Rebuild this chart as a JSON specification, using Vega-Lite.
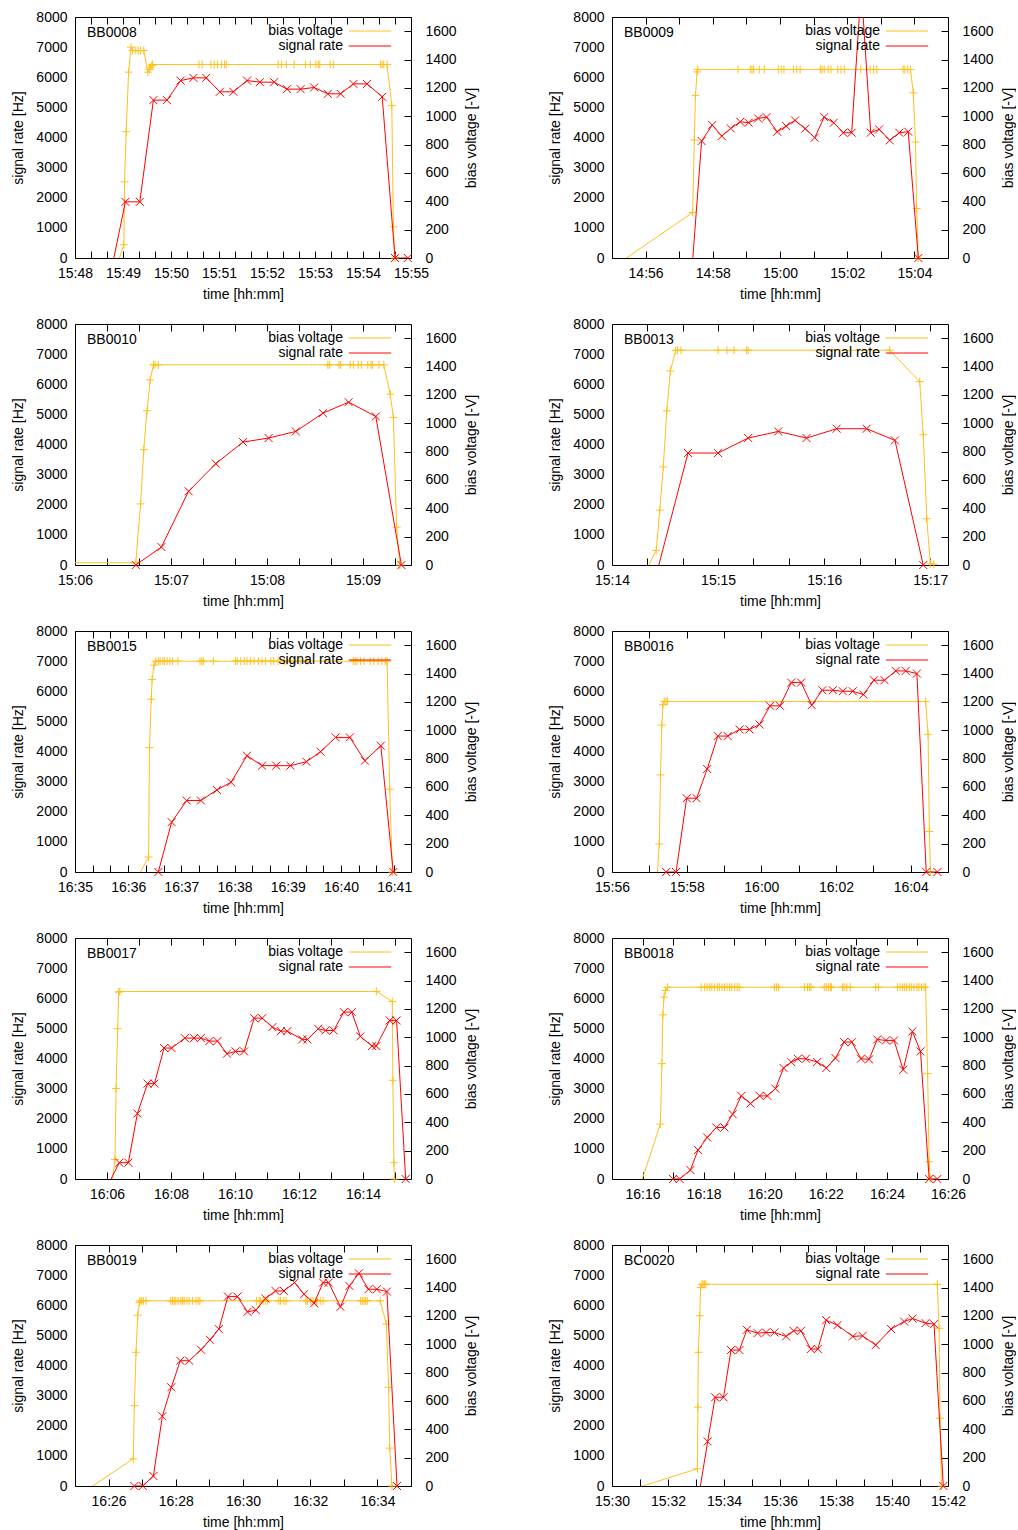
{
"$schema": "https://vega.github.io/schema/vega-lite/v6.json",
"padding": {"left": 11, "top": 9, "right": 0, "bottom": 0},
"data": {"values": [
{"p":"BB0008","s":"bias voltage","t":56932,"v":-60},
{"p":"BB0008","s":"bias voltage","t":56941,"v":94},
{"p":"BB0008","s":"bias voltage","t":56942,"v":537},
{"p":"BB0008","s":"bias voltage","t":56944,"v":891},
{"p":"BB0008","s":"bias voltage","t":56947,"v":1311},
{"p":"BB0008","s":"bias voltage","t":56950,"v":1487},
{"p":"BB0008","s":"bias voltage","t":56952,"v":1463},
{"p":"BB0008","s":"bias voltage","t":56956,"v":1463},
{"p":"BB0008","s":"bias voltage","t":56959,"v":1463},
{"p":"BB0008","s":"bias voltage","t":56962,"v":1463},
{"p":"BB0008","s":"bias voltage","t":56966,"v":1463},
{"p":"BB0008","s":"bias voltage","t":56971,"v":1311},
{"p":"BB0008","s":"bias voltage","t":56973,"v":1330},
{"p":"BB0008","s":"bias voltage","t":56974,"v":1345},
{"p":"BB0008","s":"bias voltage","t":56976,"v":1358},
{"p":"BB0008","s":"bias voltage","t":56977,"v":1365},
{"p":"BB0008","s":"bias voltage","t":57035,"v":1365},
{"p":"BB0008","s":"bias voltage","t":57039,"v":1365},
{"p":"BB0008","s":"bias voltage","t":57050,"v":1365},
{"p":"BB0008","s":"bias voltage","t":57054,"v":1365},
{"p":"BB0008","s":"bias voltage","t":57058,"v":1365},
{"p":"BB0008","s":"bias voltage","t":57063,"v":1365},
{"p":"BB0008","s":"bias voltage","t":57067,"v":1365},
{"p":"BB0008","s":"bias voltage","t":57069,"v":1365},
{"p":"BB0008","s":"bias voltage","t":57134,"v":1365},
{"p":"BB0008","s":"bias voltage","t":57138,"v":1365},
{"p":"BB0008","s":"bias voltage","t":57144,"v":1365},
{"p":"BB0008","s":"bias voltage","t":57154,"v":1365},
{"p":"BB0008","s":"bias voltage","t":57168,"v":1365},
{"p":"BB0008","s":"bias voltage","t":57174,"v":1365},
{"p":"BB0008","s":"bias voltage","t":57181,"v":1365},
{"p":"BB0008","s":"bias voltage","t":57184,"v":1365},
{"p":"BB0008","s":"bias voltage","t":57186,"v":1365},
{"p":"BB0008","s":"bias voltage","t":57199,"v":1365},
{"p":"BB0008","s":"bias voltage","t":57203,"v":1365},
{"p":"BB0008","s":"bias voltage","t":57262,"v":1365},
{"p":"BB0008","s":"bias voltage","t":57264,"v":1365},
{"p":"BB0008","s":"bias voltage","t":57266,"v":1365},
{"p":"BB0008","s":"bias voltage","t":57270,"v":1365},
{"p":"BB0008","s":"bias voltage","t":57276,"v":1076},
{"p":"BB0008","s":"bias voltage","t":57278,"v":220},
{"p":"BB0008","s":"bias voltage","t":57280,"v":0},
{"p":"BB0008","s":"signal rate","t":56926,"v":-331},
{"p":"BB0008","s":"signal rate","t":56943,"v":1865},
{"p":"BB0008","s":"signal rate","t":56961,"v":1865},
{"p":"BB0008","s":"signal rate","t":56978,"v":5240},
{"p":"BB0008","s":"signal rate","t":56995,"v":5240},
{"p":"BB0008","s":"signal rate","t":57012,"v":5890},
{"p":"BB0008","s":"signal rate","t":57028,"v":5980},
{"p":"BB0008","s":"signal rate","t":57044,"v":5980},
{"p":"BB0008","s":"signal rate","t":57061,"v":5517},
{"p":"BB0008","s":"signal rate","t":57078,"v":5517},
{"p":"BB0008","s":"signal rate","t":57095,"v":5890},
{"p":"BB0008","s":"signal rate","t":57111,"v":5837},
{"p":"BB0008","s":"signal rate","t":57129,"v":5837},
{"p":"BB0008","s":"signal rate","t":57145,"v":5605},
{"p":"BB0008","s":"signal rate","t":57162,"v":5605},
{"p":"BB0008","s":"signal rate","t":57179,"v":5660},
{"p":"BB0008","s":"signal rate","t":57196,"v":5450},
{"p":"BB0008","s":"signal rate","t":57212,"v":5450},
{"p":"BB0008","s":"signal rate","t":57228,"v":5780},
{"p":"BB0008","s":"signal rate","t":57245,"v":5780},
{"p":"BB0008","s":"signal rate","t":57264,"v":5350},
{"p":"BB0008","s":"signal rate","t":57280,"v":0},
{"p":"BB0008","s":"signal rate","t":57296,"v":0},
{"p":"BB0009","s":"bias voltage","t":53700,"v":-70},
{"p":"BB0009","s":"bias voltage","t":53844,"v":321},
{"p":"BB0009","s":"bias voltage","t":53847,"v":832},
{"p":"BB0009","s":"bias voltage","t":53849,"v":1147},
{"p":"BB0009","s":"bias voltage","t":53852,"v":1313},
{"p":"BB0009","s":"bias voltage","t":53853,"v":1330},
{"p":"BB0009","s":"bias voltage","t":53925,"v":1330},
{"p":"BB0009","s":"bias voltage","t":53947,"v":1330},
{"p":"BB0009","s":"bias voltage","t":53950,"v":1330},
{"p":"BB0009","s":"bias voltage","t":53953,"v":1330},
{"p":"BB0009","s":"bias voltage","t":53963,"v":1330},
{"p":"BB0009","s":"bias voltage","t":53972,"v":1330},
{"p":"BB0009","s":"bias voltage","t":53997,"v":1330},
{"p":"BB0009","s":"bias voltage","t":54002,"v":1330},
{"p":"BB0009","s":"bias voltage","t":54007,"v":1330},
{"p":"BB0009","s":"bias voltage","t":54024,"v":1330},
{"p":"BB0009","s":"bias voltage","t":54030,"v":1330},
{"p":"BB0009","s":"bias voltage","t":54036,"v":1330},
{"p":"BB0009","s":"bias voltage","t":54072,"v":1330},
{"p":"BB0009","s":"bias voltage","t":54075,"v":1330},
{"p":"BB0009","s":"bias voltage","t":54079,"v":1330},
{"p":"BB0009","s":"bias voltage","t":54086,"v":1330},
{"p":"BB0009","s":"bias voltage","t":54091,"v":1330},
{"p":"BB0009","s":"bias voltage","t":54103,"v":1330},
{"p":"BB0009","s":"bias voltage","t":54109,"v":1330},
{"p":"BB0009","s":"bias voltage","t":54115,"v":1330},
{"p":"BB0009","s":"bias voltage","t":54144,"v":1330},
{"p":"BB0009","s":"bias voltage","t":54161,"v":1330},
{"p":"BB0009","s":"bias voltage","t":54167,"v":1330},
{"p":"BB0009","s":"bias voltage","t":54173,"v":1330},
{"p":"BB0009","s":"bias voltage","t":54220,"v":1330},
{"p":"BB0009","s":"bias voltage","t":54223,"v":1330},
{"p":"BB0009","s":"bias voltage","t":54228,"v":1330},
{"p":"BB0009","s":"bias voltage","t":54233,"v":1330},
{"p":"BB0009","s":"bias voltage","t":54238,"v":1165},
{"p":"BB0009","s":"bias voltage","t":54242,"v":818},
{"p":"BB0009","s":"bias voltage","t":54244,"v":349},
{"p":"BB0009","s":"bias voltage","t":54247,"v":0},
{"p":"BB0009","s":"signal rate","t":53843,"v":-331},
{"p":"BB0009","s":"signal rate","t":53860,"v":3883},
{"p":"BB0009","s":"signal rate","t":53879,"v":4413},
{"p":"BB0009","s":"signal rate","t":53896,"v":4049},
{"p":"BB0009","s":"signal rate","t":53912,"v":4302},
{"p":"BB0009","s":"signal rate","t":53929,"v":4523},
{"p":"BB0009","s":"signal rate","t":53944,"v":4490},
{"p":"BB0009","s":"signal rate","t":53961,"v":4633},
{"p":"BB0009","s":"signal rate","t":53976,"v":4677},
{"p":"BB0009","s":"signal rate","t":53995,"v":4192},
{"p":"BB0009","s":"signal rate","t":54011,"v":4379},
{"p":"BB0009","s":"signal rate","t":54027,"v":4567},
{"p":"BB0009","s":"signal rate","t":54045,"v":4291},
{"p":"BB0009","s":"signal rate","t":54062,"v":3993},
{"p":"BB0009","s":"signal rate","t":54079,"v":4677},
{"p":"BB0009","s":"signal rate","t":54096,"v":4490},
{"p":"BB0009","s":"signal rate","t":54113,"v":4159},
{"p":"BB0009","s":"signal rate","t":54128,"v":4159},
{"p":"BB0009","s":"signal rate","t":54145,"v":9000},
{"p":"BB0009","s":"signal rate","t":54162,"v":4159},
{"p":"BB0009","s":"signal rate","t":54177,"v":4270},
{"p":"BB0009","s":"signal rate","t":54196,"v":3905},
{"p":"BB0009","s":"signal rate","t":54213,"v":4159},
{"p":"BB0009","s":"signal rate","t":54229,"v":4192},
{"p":"BB0009","s":"signal rate","t":54247,"v":0},
{"p":"BB0010","s":"bias voltage","t":54355,"v":16},
{"p":"BB0010","s":"bias voltage","t":54398,"v":16},
{"p":"BB0010","s":"bias voltage","t":54401,"v":431},
{"p":"BB0010","s":"bias voltage","t":54403,"v":814},
{"p":"BB0010","s":"bias voltage","t":54405,"v":1088},
{"p":"BB0010","s":"bias voltage","t":54407,"v":1306},
{"p":"BB0010","s":"bias voltage","t":54409,"v":1412},
{"p":"BB0010","s":"bias voltage","t":54410,"v":1412},
{"p":"BB0010","s":"bias voltage","t":54412,"v":1412},
{"p":"BB0010","s":"bias voltage","t":54518,"v":1412},
{"p":"BB0010","s":"bias voltage","t":54519,"v":1412},
{"p":"BB0010","s":"bias voltage","t":54525,"v":1412},
{"p":"BB0010","s":"bias voltage","t":54526,"v":1412},
{"p":"BB0010","s":"bias voltage","t":54532,"v":1412},
{"p":"BB0010","s":"bias voltage","t":54534,"v":1412},
{"p":"BB0010","s":"bias voltage","t":54537,"v":1412},
{"p":"BB0010","s":"bias voltage","t":54539,"v":1412},
{"p":"BB0010","s":"bias voltage","t":54543,"v":1412},
{"p":"BB0010","s":"bias voltage","t":54545,"v":1412},
{"p":"BB0010","s":"bias voltage","t":54546,"v":1412},
{"p":"BB0010","s":"bias voltage","t":54550,"v":1412},
{"p":"BB0010","s":"bias voltage","t":54553,"v":1412},
{"p":"BB0010","s":"bias voltage","t":54557,"v":1205},
{"p":"BB0010","s":"bias voltage","t":54559,"v":1041},
{"p":"BB0010","s":"bias voltage","t":54561,"v":267},
{"p":"BB0010","s":"bias voltage","t":54563,"v":0},
{"p":"BB0010","s":"signal rate","t":54398,"v":0},
{"p":"BB0010","s":"signal rate","t":54414,"v":596},
{"p":"BB0010","s":"signal rate","t":54431,"v":2449},
{"p":"BB0010","s":"signal rate","t":54448,"v":3365},
{"p":"BB0010","s":"signal rate","t":54465,"v":4081},
{"p":"BB0010","s":"signal rate","t":54481,"v":4214},
{"p":"BB0010","s":"signal rate","t":54498,"v":4434},
{"p":"BB0010","s":"signal rate","t":54515,"v":5041},
{"p":"BB0010","s":"signal rate","t":54531,"v":5405},
{"p":"BB0010","s":"signal rate","t":54548,"v":4931},
{"p":"BB0010","s":"signal rate","t":54564,"v":0},
{"p":"BB0013","s":"bias voltage","t":54858,"v":-70},
{"p":"BB0013","s":"bias voltage","t":54865,"v":103},
{"p":"BB0013","s":"bias voltage","t":54867,"v":387},
{"p":"BB0013","s":"bias voltage","t":54869,"v":692},
{"p":"BB0013","s":"bias voltage","t":54871,"v":1088},
{"p":"BB0013","s":"bias voltage","t":54873,"v":1369},
{"p":"BB0013","s":"bias voltage","t":54876,"v":1513},
{"p":"BB0013","s":"bias voltage","t":54877,"v":1515},
{"p":"BB0013","s":"bias voltage","t":54879,"v":1515},
{"p":"BB0013","s":"bias voltage","t":54900,"v":1515},
{"p":"BB0013","s":"bias voltage","t":54905,"v":1515},
{"p":"BB0013","s":"bias voltage","t":54909,"v":1515},
{"p":"BB0013","s":"bias voltage","t":54916,"v":1515},
{"p":"BB0013","s":"bias voltage","t":54917,"v":1515},
{"p":"BB0013","s":"bias voltage","t":54997,"v":1515},
{"p":"BB0013","s":"bias voltage","t":55014,"v":1294},
{"p":"BB0013","s":"bias voltage","t":55016,"v":919},
{"p":"BB0013","s":"bias voltage","t":55018,"v":326},
{"p":"BB0013","s":"bias voltage","t":55020,"v":9},
{"p":"BB0013","s":"bias voltage","t":55022,"v":5},
{"p":"BB0013","s":"signal rate","t":54865,"v":-331},
{"p":"BB0013","s":"signal rate","t":54883,"v":3717},
{"p":"BB0013","s":"signal rate","t":54900,"v":3717},
{"p":"BB0013","s":"signal rate","t":54917,"v":4214},
{"p":"BB0013","s":"signal rate","t":54934,"v":4434},
{"p":"BB0013","s":"signal rate","t":54950,"v":4214},
{"p":"BB0013","s":"signal rate","t":54967,"v":4523},
{"p":"BB0013","s":"signal rate","t":54984,"v":4523},
{"p":"BB0013","s":"signal rate","t":55000,"v":4137},
{"p":"BB0013","s":"signal rate","t":55016,"v":0},
{"p":"BB0015","s":"bias voltage","t":59768,"v":-70},
{"p":"BB0015","s":"bias voltage","t":59783,"v":106},
{"p":"BB0015","s":"bias voltage","t":59784,"v":877},
{"p":"BB0015","s":"bias voltage","t":59786,"v":1219},
{"p":"BB0015","s":"bias voltage","t":59787,"v":1358},
{"p":"BB0015","s":"bias voltage","t":59789,"v":1459},
{"p":"BB0015","s":"bias voltage","t":59791,"v":1487},
{"p":"BB0015","s":"bias voltage","t":59794,"v":1487},
{"p":"BB0015","s":"bias voltage","t":59796,"v":1487},
{"p":"BB0015","s":"bias voltage","t":59799,"v":1487},
{"p":"BB0015","s":"bias voltage","t":59801,"v":1487},
{"p":"BB0015","s":"bias voltage","t":59804,"v":1487},
{"p":"BB0015","s":"bias voltage","t":59807,"v":1487},
{"p":"BB0015","s":"bias voltage","t":59810,"v":1487},
{"p":"BB0015","s":"bias voltage","t":59816,"v":1487},
{"p":"BB0015","s":"bias voltage","t":59841,"v":1487},
{"p":"BB0015","s":"bias voltage","t":59843,"v":1487},
{"p":"BB0015","s":"bias voltage","t":59845,"v":1487},
{"p":"BB0015","s":"bias voltage","t":59856,"v":1487},
{"p":"BB0015","s":"bias voltage","t":59881,"v":1487},
{"p":"BB0015","s":"bias voltage","t":59883,"v":1487},
{"p":"BB0015","s":"bias voltage","t":59887,"v":1487},
{"p":"BB0015","s":"bias voltage","t":59891,"v":1487},
{"p":"BB0015","s":"bias voltage","t":59894,"v":1487},
{"p":"BB0015","s":"bias voltage","t":59898,"v":1487},
{"p":"BB0015","s":"bias voltage","t":59902,"v":1487},
{"p":"BB0015","s":"bias voltage","t":59907,"v":1487},
{"p":"BB0015","s":"bias voltage","t":59911,"v":1487},
{"p":"BB0015","s":"bias voltage","t":59915,"v":1487},
{"p":"BB0015","s":"bias voltage","t":59921,"v":1487},
{"p":"BB0015","s":"bias voltage","t":59924,"v":1487},
{"p":"BB0015","s":"bias voltage","t":59929,"v":1487},
{"p":"BB0015","s":"bias voltage","t":59936,"v":1487},
{"p":"BB0015","s":"bias voltage","t":59939,"v":1487},
{"p":"BB0015","s":"bias voltage","t":59943,"v":1487},
{"p":"BB0015","s":"bias voltage","t":59947,"v":1487},
{"p":"BB0015","s":"bias voltage","t":59954,"v":1487},
{"p":"BB0015","s":"bias voltage","t":59962,"v":1487},
{"p":"BB0015","s":"bias voltage","t":60014,"v":1487},
{"p":"BB0015","s":"bias voltage","t":60016,"v":1487},
{"p":"BB0015","s":"bias voltage","t":60018,"v":1487},
{"p":"BB0015","s":"bias voltage","t":60022,"v":1487},
{"p":"BB0015","s":"bias voltage","t":60026,"v":1487},
{"p":"BB0015","s":"bias voltage","t":60033,"v":1487},
{"p":"BB0015","s":"bias voltage","t":60037,"v":1487},
{"p":"BB0015","s":"bias voltage","t":60042,"v":1487},
{"p":"BB0015","s":"bias voltage","t":60046,"v":1487},
{"p":"BB0015","s":"bias voltage","t":60050,"v":1487},
{"p":"BB0015","s":"bias voltage","t":60052,"v":1487},
{"p":"BB0015","s":"bias voltage","t":60055,"v":584},
{"p":"BB0015","s":"bias voltage","t":60058,"v":0},
{"p":"BB0015","s":"signal rate","t":59794,"v":0},
{"p":"BB0015","s":"signal rate","t":59809,"v":1655},
{"p":"BB0015","s":"signal rate","t":59826,"v":2372},
{"p":"BB0015","s":"signal rate","t":59842,"v":2372},
{"p":"BB0015","s":"signal rate","t":59860,"v":2724},
{"p":"BB0015","s":"signal rate","t":59876,"v":2979},
{"p":"BB0015","s":"signal rate","t":59894,"v":3861},
{"p":"BB0015","s":"signal rate","t":59911,"v":3530},
{"p":"BB0015","s":"signal rate","t":59927,"v":3530},
{"p":"BB0015","s":"signal rate","t":59943,"v":3530},
{"p":"BB0015","s":"signal rate","t":59961,"v":3662},
{"p":"BB0015","s":"signal rate","t":59977,"v":3993},
{"p":"BB0015","s":"signal rate","t":59994,"v":4467},
{"p":"BB0015","s":"signal rate","t":60010,"v":4467},
{"p":"BB0015","s":"signal rate","t":60027,"v":3695},
{"p":"BB0015","s":"signal rate","t":60045,"v":4192},
{"p":"BB0015","s":"signal rate","t":60059,"v":0},
{"p":"BB0016","s":"bias voltage","t":57432,"v":-70},
{"p":"BB0016","s":"bias voltage","t":57436,"v":197},
{"p":"BB0016","s":"bias voltage","t":57438,"v":685},
{"p":"BB0016","s":"bias voltage","t":57440,"v":1036},
{"p":"BB0016","s":"bias voltage","t":57442,"v":1182},
{"p":"BB0016","s":"bias voltage","t":57444,"v":1203},
{"p":"BB0016","s":"bias voltage","t":57447,"v":1203},
{"p":"BB0016","s":"bias voltage","t":57449,"v":1203},
{"p":"BB0016","s":"bias voltage","t":57864,"v":1203},
{"p":"BB0016","s":"bias voltage","t":57868,"v":971},
{"p":"BB0016","s":"bias voltage","t":57870,"v":286},
{"p":"BB0016","s":"bias voltage","t":57872,"v":0},
{"p":"BB0016","s":"signal rate","t":57447,"v":0},
{"p":"BB0016","s":"signal rate","t":57463,"v":0},
{"p":"BB0016","s":"signal rate","t":57480,"v":2449},
{"p":"BB0016","s":"signal rate","t":57496,"v":2449},
{"p":"BB0016","s":"signal rate","t":57513,"v":3419},
{"p":"BB0016","s":"signal rate","t":57530,"v":4512},
{"p":"BB0016","s":"signal rate","t":57546,"v":4512},
{"p":"BB0016","s":"signal rate","t":57565,"v":4732},
{"p":"BB0016","s":"signal rate","t":57581,"v":4732},
{"p":"BB0016","s":"signal rate","t":57597,"v":4897},
{"p":"BB0016","s":"signal rate","t":57614,"v":5517},
{"p":"BB0016","s":"signal rate","t":57630,"v":5517},
{"p":"BB0016","s":"signal rate","t":57648,"v":6288},
{"p":"BB0016","s":"signal rate","t":57664,"v":6288},
{"p":"BB0016","s":"signal rate","t":57681,"v":5539},
{"p":"BB0016","s":"signal rate","t":57698,"v":6034},
{"p":"BB0016","s":"signal rate","t":57715,"v":6034},
{"p":"BB0016","s":"signal rate","t":57731,"v":6000},
{"p":"BB0016","s":"signal rate","t":57747,"v":6000},
{"p":"BB0016","s":"signal rate","t":57764,"v":5890},
{"p":"BB0016","s":"signal rate","t":57781,"v":6366},
{"p":"BB0016","s":"signal rate","t":57798,"v":6366},
{"p":"BB0016","s":"signal rate","t":57816,"v":6675},
{"p":"BB0016","s":"signal rate","t":57832,"v":6675},
{"p":"BB0016","s":"signal rate","t":57850,"v":6586},
{"p":"BB0016","s":"signal rate","t":57865,"v":0},
{"p":"BB0016","s":"signal rate","t":57883,"v":0},
{"p":"BB0017","s":"bias voltage","t":57968,"v":-70},
{"p":"BB0017","s":"bias voltage","t":57975,"v":138},
{"p":"BB0017","s":"bias voltage","t":57977,"v":638},
{"p":"BB0017","s":"bias voltage","t":57980,"v":1060},
{"p":"BB0017","s":"bias voltage","t":57982,"v":1318},
{"p":"BB0017","s":"bias voltage","t":57984,"v":1323},
{"p":"BB0017","s":"bias voltage","t":58465,"v":1323},
{"p":"BB0017","s":"bias voltage","t":58495,"v":1252},
{"p":"BB0017","s":"bias voltage","t":58496,"v":696},
{"p":"BB0017","s":"bias voltage","t":58498,"v":115},
{"p":"BB0017","s":"bias voltage","t":58499,"v":0},
{"p":"BB0017","s":"signal rate","t":57958,"v":-331},
{"p":"BB0017","s":"signal rate","t":57983,"v":541},
{"p":"BB0017","s":"signal rate","t":58000,"v":541},
{"p":"BB0017","s":"signal rate","t":58017,"v":2173},
{"p":"BB0017","s":"signal rate","t":58036,"v":3166},
{"p":"BB0017","s":"signal rate","t":58049,"v":3166},
{"p":"BB0017","s":"signal rate","t":58067,"v":4346},
{"p":"BB0017","s":"signal rate","t":58081,"v":4346},
{"p":"BB0017","s":"signal rate","t":58106,"v":4677},
{"p":"BB0017","s":"signal rate","t":58123,"v":4677},
{"p":"BB0017","s":"signal rate","t":58136,"v":4677},
{"p":"BB0017","s":"signal rate","t":58152,"v":4578},
{"p":"BB0017","s":"signal rate","t":58167,"v":4578},
{"p":"BB0017","s":"signal rate","t":58185,"v":4159},
{"p":"BB0017","s":"signal rate","t":58201,"v":4236},
{"p":"BB0017","s":"signal rate","t":58217,"v":4236},
{"p":"BB0017","s":"signal rate","t":58236,"v":5339},
{"p":"BB0017","s":"signal rate","t":58251,"v":5339},
{"p":"BB0017","s":"signal rate","t":58270,"v":5041},
{"p":"BB0017","s":"signal rate","t":58286,"v":4908},
{"p":"BB0017","s":"signal rate","t":58298,"v":4908},
{"p":"BB0017","s":"signal rate","t":58326,"v":4633},
{"p":"BB0017","s":"signal rate","t":58336,"v":4633},
{"p":"BB0017","s":"signal rate","t":58356,"v":4986},
{"p":"BB0017","s":"signal rate","t":58370,"v":4931},
{"p":"BB0017","s":"signal rate","t":58385,"v":4931},
{"p":"BB0017","s":"signal rate","t":58404,"v":5539},
{"p":"BB0017","s":"signal rate","t":58419,"v":5539},
{"p":"BB0017","s":"signal rate","t":58435,"v":4732},
{"p":"BB0017","s":"signal rate","t":58457,"v":4413},
{"p":"BB0017","s":"signal rate","t":58465,"v":4413},
{"p":"BB0017","s":"signal rate","t":58490,"v":5263},
{"p":"BB0017","s":"signal rate","t":58503,"v":5263},
{"p":"BB0017","s":"signal rate","t":58520,"v":0},
{"p":"BB0018","s":"bias voltage","t":58553,"v":-70},
{"p":"BB0018","s":"bias voltage","t":58595,"v":387},
{"p":"BB0018","s":"bias voltage","t":58598,"v":814},
{"p":"BB0018","s":"bias voltage","t":58600,"v":1158},
{"p":"BB0018","s":"bias voltage","t":58602,"v":1283},
{"p":"BB0018","s":"bias voltage","t":58605,"v":1330},
{"p":"BB0018","s":"bias voltage","t":58609,"v":1353},
{"p":"BB0018","s":"bias voltage","t":58675,"v":1353},
{"p":"BB0018","s":"bias voltage","t":58682,"v":1353},
{"p":"BB0018","s":"bias voltage","t":58687,"v":1353},
{"p":"BB0018","s":"bias voltage","t":58692,"v":1353},
{"p":"BB0018","s":"bias voltage","t":58696,"v":1353},
{"p":"BB0018","s":"bias voltage","t":58701,"v":1353},
{"p":"BB0018","s":"bias voltage","t":58707,"v":1353},
{"p":"BB0018","s":"bias voltage","t":58711,"v":1353},
{"p":"BB0018","s":"bias voltage","t":58716,"v":1353},
{"p":"BB0018","s":"bias voltage","t":58721,"v":1353},
{"p":"BB0018","s":"bias voltage","t":58726,"v":1353},
{"p":"BB0018","s":"bias voltage","t":58731,"v":1353},
{"p":"BB0018","s":"bias voltage","t":58735,"v":1353},
{"p":"BB0018","s":"bias voltage","t":58741,"v":1353},
{"p":"BB0018","s":"bias voltage","t":58746,"v":1353},
{"p":"BB0018","s":"bias voltage","t":58750,"v":1353},
{"p":"BB0018","s":"bias voltage","t":58819,"v":1353},
{"p":"BB0018","s":"bias voltage","t":58823,"v":1353},
{"p":"BB0018","s":"bias voltage","t":58827,"v":1353},
{"p":"BB0018","s":"bias voltage","t":58878,"v":1353},
{"p":"BB0018","s":"bias voltage","t":58884,"v":1353},
{"p":"BB0018","s":"bias voltage","t":58888,"v":1353},
{"p":"BB0018","s":"bias voltage","t":58891,"v":1353},
{"p":"BB0018","s":"bias voltage","t":58917,"v":1353},
{"p":"BB0018","s":"bias voltage","t":58921,"v":1353},
{"p":"BB0018","s":"bias voltage","t":58925,"v":1353},
{"p":"BB0018","s":"bias voltage","t":58929,"v":1353},
{"p":"BB0018","s":"bias voltage","t":58931,"v":1353},
{"p":"BB0018","s":"bias voltage","t":58953,"v":1353},
{"p":"BB0018","s":"bias voltage","t":58956,"v":1353},
{"p":"BB0018","s":"bias voltage","t":58961,"v":1353},
{"p":"BB0018","s":"bias voltage","t":58968,"v":1353},
{"p":"BB0018","s":"bias voltage","t":59018,"v":1353},
{"p":"BB0018","s":"bias voltage","t":59023,"v":1353},
{"p":"BB0018","s":"bias voltage","t":59061,"v":1353},
{"p":"BB0018","s":"bias voltage","t":59066,"v":1353},
{"p":"BB0018","s":"bias voltage","t":59071,"v":1353},
{"p":"BB0018","s":"bias voltage","t":59075,"v":1353},
{"p":"BB0018","s":"bias voltage","t":59079,"v":1353},
{"p":"BB0018","s":"bias voltage","t":59084,"v":1353},
{"p":"BB0018","s":"bias voltage","t":59088,"v":1353},
{"p":"BB0018","s":"bias voltage","t":59093,"v":1353},
{"p":"BB0018","s":"bias voltage","t":59099,"v":1353},
{"p":"BB0018","s":"bias voltage","t":59103,"v":1353},
{"p":"BB0018","s":"bias voltage","t":59108,"v":1353},
{"p":"BB0018","s":"bias voltage","t":59113,"v":1353},
{"p":"BB0018","s":"bias voltage","t":59116,"v":1353},
{"p":"BB0018","s":"bias voltage","t":59120,"v":743},
{"p":"BB0018","s":"bias voltage","t":59123,"v":122},
{"p":"BB0018","s":"bias voltage","t":59125,"v":0},
{"p":"BB0018","s":"signal rate","t":58620,"v":0},
{"p":"BB0018","s":"signal rate","t":58633,"v":0},
{"p":"BB0018","s":"signal rate","t":58654,"v":298},
{"p":"BB0018","s":"signal rate","t":58669,"v":960},
{"p":"BB0018","s":"signal rate","t":58687,"v":1379},
{"p":"BB0018","s":"signal rate","t":58705,"v":1710},
{"p":"BB0018","s":"signal rate","t":58721,"v":1710},
{"p":"BB0018","s":"signal rate","t":58737,"v":2151},
{"p":"BB0018","s":"signal rate","t":58754,"v":2758},
{"p":"BB0018","s":"signal rate","t":58772,"v":2504},
{"p":"BB0018","s":"signal rate","t":58790,"v":2758},
{"p":"BB0018","s":"signal rate","t":58805,"v":2758},
{"p":"BB0018","s":"signal rate","t":58821,"v":3000},
{"p":"BB0018","s":"signal rate","t":58837,"v":3684},
{"p":"BB0018","s":"signal rate","t":58852,"v":3883},
{"p":"BB0018","s":"signal rate","t":58865,"v":3993},
{"p":"BB0018","s":"signal rate","t":58881,"v":3993},
{"p":"BB0018","s":"signal rate","t":58903,"v":3883},
{"p":"BB0018","s":"signal rate","t":58921,"v":3684},
{"p":"BB0018","s":"signal rate","t":58939,"v":4015},
{"p":"BB0018","s":"signal rate","t":58956,"v":4546},
{"p":"BB0018","s":"signal rate","t":58971,"v":4546},
{"p":"BB0018","s":"signal rate","t":58989,"v":3993},
{"p":"BB0018","s":"signal rate","t":59005,"v":3971},
{"p":"BB0018","s":"signal rate","t":59021,"v":4633},
{"p":"BB0018","s":"signal rate","t":59038,"v":4600},
{"p":"BB0018","s":"signal rate","t":59054,"v":4600},
{"p":"BB0018","s":"signal rate","t":59072,"v":3629},
{"p":"BB0018","s":"signal rate","t":59090,"v":4897},
{"p":"BB0018","s":"signal rate","t":59106,"v":4236},
{"p":"BB0018","s":"signal rate","t":59123,"v":0},
{"p":"BB0018","s":"signal rate","t":59139,"v":0},
{"p":"BB0019","s":"bias voltage","t":59105,"v":-70},
{"p":"BB0019","s":"bias voltage","t":59204,"v":192},
{"p":"BB0019","s":"bias voltage","t":59206,"v":567},
{"p":"BB0019","s":"bias voltage","t":59209,"v":943},
{"p":"BB0019","s":"bias voltage","t":59212,"v":1205},
{"p":"BB0019","s":"bias voltage","t":59215,"v":1294},
{"p":"BB0019","s":"bias voltage","t":59216,"v":1306},
{"p":"BB0019","s":"bias voltage","t":59219,"v":1306},
{"p":"BB0019","s":"bias voltage","t":59222,"v":1306},
{"p":"BB0019","s":"bias voltage","t":59227,"v":1306},
{"p":"BB0019","s":"bias voltage","t":59271,"v":1306},
{"p":"BB0019","s":"bias voltage","t":59274,"v":1306},
{"p":"BB0019","s":"bias voltage","t":59277,"v":1306},
{"p":"BB0019","s":"bias voltage","t":59280,"v":1306},
{"p":"BB0019","s":"bias voltage","t":59284,"v":1306},
{"p":"BB0019","s":"bias voltage","t":59289,"v":1306},
{"p":"BB0019","s":"bias voltage","t":59292,"v":1306},
{"p":"BB0019","s":"bias voltage","t":59295,"v":1306},
{"p":"BB0019","s":"bias voltage","t":59300,"v":1306},
{"p":"BB0019","s":"bias voltage","t":59304,"v":1306},
{"p":"BB0019","s":"bias voltage","t":59310,"v":1306},
{"p":"BB0019","s":"bias voltage","t":59316,"v":1306},
{"p":"BB0019","s":"bias voltage","t":59320,"v":1306},
{"p":"BB0019","s":"bias voltage","t":59323,"v":1306},
{"p":"BB0019","s":"bias voltage","t":59424,"v":1306},
{"p":"BB0019","s":"bias voltage","t":59429,"v":1306},
{"p":"BB0019","s":"bias voltage","t":59431,"v":1306},
{"p":"BB0019","s":"bias voltage","t":59436,"v":1306},
{"p":"BB0019","s":"bias voltage","t":59440,"v":1306},
{"p":"BB0019","s":"bias voltage","t":59444,"v":1306},
{"p":"BB0019","s":"bias voltage","t":59464,"v":1306},
{"p":"BB0019","s":"bias voltage","t":59467,"v":1306},
{"p":"BB0019","s":"bias voltage","t":59473,"v":1306},
{"p":"BB0019","s":"bias voltage","t":59477,"v":1306},
{"p":"BB0019","s":"bias voltage","t":59512,"v":1306},
{"p":"BB0019","s":"bias voltage","t":59515,"v":1306},
{"p":"BB0019","s":"bias voltage","t":59521,"v":1306},
{"p":"BB0019","s":"bias voltage","t":59525,"v":1306},
{"p":"BB0019","s":"bias voltage","t":59530,"v":1306},
{"p":"BB0019","s":"bias voltage","t":59532,"v":1306},
{"p":"BB0019","s":"bias voltage","t":59538,"v":1306},
{"p":"BB0019","s":"bias voltage","t":59543,"v":1306},
{"p":"BB0019","s":"bias voltage","t":59610,"v":1306},
{"p":"BB0019","s":"bias voltage","t":59613,"v":1306},
{"p":"BB0019","s":"bias voltage","t":59616,"v":1306},
{"p":"BB0019","s":"bias voltage","t":59619,"v":1306},
{"p":"BB0019","s":"bias voltage","t":59622,"v":1306},
{"p":"BB0019","s":"bias voltage","t":59645,"v":1306},
{"p":"BB0019","s":"bias voltage","t":59656,"v":1142},
{"p":"BB0019","s":"bias voltage","t":59660,"v":696},
{"p":"BB0019","s":"bias voltage","t":59662,"v":267},
{"p":"BB0019","s":"bias voltage","t":59666,"v":0},
{"p":"BB0019","s":"signal rate","t":59206,"v":0},
{"p":"BB0019","s":"signal rate","t":59221,"v":0},
{"p":"BB0019","s":"signal rate","t":59240,"v":331},
{"p":"BB0019","s":"signal rate","t":59256,"v":2317},
{"p":"BB0019","s":"signal rate","t":59272,"v":3277},
{"p":"BB0019","s":"signal rate","t":59288,"v":4159},
{"p":"BB0019","s":"signal rate","t":59304,"v":4159},
{"p":"BB0019","s":"signal rate","t":59325,"v":4523},
{"p":"BB0019","s":"signal rate","t":59341,"v":4853},
{"p":"BB0019","s":"signal rate","t":59357,"v":5208},
{"p":"BB0019","s":"signal rate","t":59373,"v":6288},
{"p":"BB0019","s":"signal rate","t":59390,"v":6288},
{"p":"BB0019","s":"signal rate","t":59408,"v":5780},
{"p":"BB0019","s":"signal rate","t":59423,"v":5837},
{"p":"BB0019","s":"signal rate","t":59440,"v":6222},
{"p":"BB0019","s":"signal rate","t":59458,"v":6476},
{"p":"BB0019","s":"signal rate","t":59473,"v":6476},
{"p":"BB0019","s":"signal rate","t":59492,"v":6752},
{"p":"BB0019","s":"signal rate","t":59509,"v":6366},
{"p":"BB0019","s":"signal rate","t":59527,"v":6068},
{"p":"BB0019","s":"signal rate","t":59543,"v":6752},
{"p":"BB0019","s":"signal rate","t":59553,"v":6752},
{"p":"BB0019","s":"signal rate","t":59574,"v":5947},
{"p":"BB0019","s":"signal rate","t":59590,"v":6642},
{"p":"BB0019","s":"signal rate","t":59607,"v":7060},
{"p":"BB0019","s":"signal rate","t":59624,"v":6531},
{"p":"BB0019","s":"signal rate","t":59639,"v":6531},
{"p":"BB0019","s":"signal rate","t":59657,"v":6454},
{"p":"BB0019","s":"signal rate","t":59675,"v":0},
{"p":"BC0020","s":"bias voltage","t":55799,"v":-70},
{"p":"BC0020","s":"bias voltage","t":55983,"v":122},
{"p":"BC0020","s":"bias voltage","t":55984,"v":556},
{"p":"BC0020","s":"bias voltage","t":55985,"v":943},
{"p":"BC0020","s":"bias voltage","t":55988,"v":1201},
{"p":"BC0020","s":"bias voltage","t":55990,"v":1400},
{"p":"BC0020","s":"bias voltage","t":55993,"v":1423},
{"p":"BC0020","s":"bias voltage","t":55995,"v":1423},
{"p":"BC0020","s":"bias voltage","t":55998,"v":1423},
{"p":"BC0020","s":"bias voltage","t":56001,"v":1423},
{"p":"BC0020","s":"bias voltage","t":56497,"v":1423},
{"p":"BC0020","s":"bias voltage","t":56501,"v":1112},
{"p":"BC0020","s":"bias voltage","t":56503,"v":478},
{"p":"BC0020","s":"bias voltage","t":56506,"v":0},
{"p":"BC0020","s":"signal rate","t":55986,"v":-331},
{"p":"BC0020","s":"signal rate","t":56005,"v":1478},
{"p":"BC0020","s":"signal rate","t":56021,"v":2945},
{"p":"BC0020","s":"signal rate","t":56039,"v":2945},
{"p":"BC0020","s":"signal rate","t":56055,"v":4512},
{"p":"BC0020","s":"signal rate","t":56073,"v":4512},
{"p":"BC0020","s":"signal rate","t":56089,"v":5184},
{"p":"BC0020","s":"signal rate","t":56112,"v":5075},
{"p":"BC0020","s":"signal rate","t":56130,"v":5097},
{"p":"BC0020","s":"signal rate","t":56148,"v":5097},
{"p":"BC0020","s":"signal rate","t":56173,"v":4964},
{"p":"BC0020","s":"signal rate","t":56189,"v":5152},
{"p":"BC0020","s":"signal rate","t":56205,"v":5152},
{"p":"BC0020","s":"signal rate","t":56226,"v":4546},
{"p":"BC0020","s":"signal rate","t":56241,"v":4546},
{"p":"BC0020","s":"signal rate","t":56259,"v":5504},
{"p":"BC0020","s":"signal rate","t":56283,"v":5339},
{"p":"BC0020","s":"signal rate","t":56316,"v":4964},
{"p":"BC0020","s":"signal rate","t":56337,"v":4986},
{"p":"BC0020","s":"signal rate","t":56365,"v":4677},
{"p":"BC0020","s":"signal rate","t":56398,"v":5208},
{"p":"BC0020","s":"signal rate","t":56426,"v":5460},
{"p":"BC0020","s":"signal rate","t":56444,"v":5559},
{"p":"BC0020","s":"signal rate","t":56472,"v":5405},
{"p":"BC0020","s":"signal rate","t":56490,"v":5372},
{"p":"BC0020","s":"signal rate","t":56510,"v":0}
]},
"columns": 2,
"bounds": "flush",
"spacing": {"row": 66, "column": 201},
"resolve": {"scale": {"color": "independent", "x": "independent", "y": "independent"}, "legend": {"color": "independent"}},
"concat": [
{"title": "BB0008", "width": 336, "height": 241,
 "transform": [{"filter": "datum.p == 'BB0008'"}],
 "encoding": {"color": {"field": "s", "type": "nominal", "scale": {"domain": ["bias voltage", "signal rate"], "range": ["#ffc020", "#ff0000"]}, "legend": {"title": null, "orient": "none", "legendX": 288, "legendY": 7}}},
 "layer": [
  {"transform": [{"filter": "datum.s == 'bias voltage'"}], "mark": {"type": "line", "clip": true, "strokeWidth": 1},
   "encoding": {"x": {"field": "t", "type": "quantitative", "scale": {"domain": [56880, 57300], "nice": false, "zero": false}, "axis": {"orient": "bottom", "title": "time [hh:mm]", "values": [56880,56900,56920,56940,56960,56980,57000,57020,57040,57060,57080,57100,57120,57140,57160,57180,57200,57220,57240,57260,57280,57300], "labelExpr": "datum.value % 60 == 0 ? format(floor(datum.value / 3600), '02d') + ':' + format(floor(datum.value / 60) % 60, '02d') : ''"}},
    "y": {"field": "v", "type": "quantitative", "scale": {"domain": [0, 1700], "nice": false}, "axis": {"orient": "right", "title": "bias voltage [-V]", "format": "d", "values": [0, 200, 400, 600, 800, 1000, 1200, 1400, 1600]}}}},
  {"transform": [{"filter": "datum.s == 'bias voltage' && datum.v >= 0"}], "mark": {"type": "point", "shape": "M0,-1L0,1M-1,0L1,0", "filled": false, "size": 64, "strokeWidth": 1, "opacity": 1},
   "encoding": {"x": {"field": "t", "type": "quantitative", "scale": {"domain": [56880, 57300], "nice": false, "zero": false}, "axis": null},
    "y": {"field": "v", "type": "quantitative", "scale": {"domain": [0, 1700], "nice": false}, "axis": null}}},
  {"transform": [{"filter": "datum.s == 'signal rate'"}], "mark": {"type": "line", "clip": true, "strokeWidth": 1},
   "encoding": {"x": {"field": "t", "type": "quantitative", "scale": {"domain": [56880, 57300], "nice": false, "zero": false}, "axis": {"orient": "top", "title": null, "labels": false, "values": [56880,56900,56920,56940,56960,56980,57000,57020,57040,57060,57080,57100,57120,57140,57160,57180,57200,57220,57240,57260,57280,57300]}},
    "y": {"field": "v", "type": "quantitative", "scale": {"domain": [0, 8000], "nice": false}, "axis": {"orient": "left", "title": "signal rate [Hz]", "format": "d", "values": [0, 1000, 2000, 3000, 4000, 5000, 6000, 7000, 8000]}}}},
  {"transform": [{"filter": "datum.s == 'signal rate' && datum.v >= 0 && datum.v <= 8000"}], "mark": {"type": "point", "shape": "M-1,-1L1,1M-1,1L1,-1", "filled": false, "size": 64, "strokeWidth": 1, "opacity": 1},
   "encoding": {"x": {"field": "t", "type": "quantitative", "scale": {"domain": [56880, 57300], "nice": false, "zero": false}, "axis": null},
    "y": {"field": "v", "type": "quantitative", "scale": {"domain": [0, 8000], "nice": false}, "axis": null}}}
 ],
 "resolve": {"scale": {"y": "independent"}, "axis": {"x": "independent", "y": "independent"}}},
{"title": "BB0009", "width": 336, "height": 241,
 "transform": [{"filter": "datum.p == 'BB0009'"}],
 "encoding": {"color": {"field": "s", "type": "nominal", "scale": {"domain": ["bias voltage", "signal rate"], "range": ["#ffc020", "#ff0000"]}, "legend": {"title": null, "orient": "none", "legendX": 288, "legendY": 7}}},
 "layer": [
  {"transform": [{"filter": "datum.s == 'bias voltage'"}], "mark": {"type": "line", "clip": true, "strokeWidth": 1},
   "encoding": {"x": {"field": "t", "type": "quantitative", "scale": {"domain": [53700, 54300], "nice": false, "zero": false}, "axis": {"orient": "bottom", "title": "time [hh:mm]", "values": [53700,53760,53820,53880,53940,54000,54060,54120,54180,54240,54300], "labelExpr": "datum.value % 120 == 0 ? format(floor(datum.value / 3600), '02d') + ':' + format(floor(datum.value / 60) % 60, '02d') : ''"}},
    "y": {"field": "v", "type": "quantitative", "scale": {"domain": [0, 1700], "nice": false}, "axis": {"orient": "right", "title": "bias voltage [-V]", "format": "d", "values": [0, 200, 400, 600, 800, 1000, 1200, 1400, 1600]}}}},
  {"transform": [{"filter": "datum.s == 'bias voltage' && datum.v >= 0"}], "mark": {"type": "point", "shape": "M0,-1L0,1M-1,0L1,0", "filled": false, "size": 64, "strokeWidth": 1, "opacity": 1},
   "encoding": {"x": {"field": "t", "type": "quantitative", "scale": {"domain": [53700, 54300], "nice": false, "zero": false}, "axis": null},
    "y": {"field": "v", "type": "quantitative", "scale": {"domain": [0, 1700], "nice": false}, "axis": null}}},
  {"transform": [{"filter": "datum.s == 'signal rate'"}], "mark": {"type": "line", "clip": true, "strokeWidth": 1},
   "encoding": {"x": {"field": "t", "type": "quantitative", "scale": {"domain": [53700, 54300], "nice": false, "zero": false}, "axis": {"orient": "top", "title": null, "labels": false, "values": [53700,53760,53820,53880,53940,54000,54060,54120,54180,54240,54300]}},
    "y": {"field": "v", "type": "quantitative", "scale": {"domain": [0, 8000], "nice": false}, "axis": {"orient": "left", "title": "signal rate [Hz]", "format": "d", "values": [0, 1000, 2000, 3000, 4000, 5000, 6000, 7000, 8000]}}}},
  {"transform": [{"filter": "datum.s == 'signal rate' && datum.v >= 0 && datum.v <= 8000"}], "mark": {"type": "point", "shape": "M-1,-1L1,1M-1,1L1,-1", "filled": false, "size": 64, "strokeWidth": 1, "opacity": 1},
   "encoding": {"x": {"field": "t", "type": "quantitative", "scale": {"domain": [53700, 54300], "nice": false, "zero": false}, "axis": null},
    "y": {"field": "v", "type": "quantitative", "scale": {"domain": [0, 8000], "nice": false}, "axis": null}}}
 ],
 "resolve": {"scale": {"y": "independent"}, "axis": {"x": "independent", "y": "independent"}}},
{"title": "BB0010", "width": 336, "height": 241,
 "transform": [{"filter": "datum.p == 'BB0010'"}],
 "encoding": {"color": {"field": "s", "type": "nominal", "scale": {"domain": ["bias voltage", "signal rate"], "range": ["#ffc020", "#ff0000"]}, "legend": {"title": null, "orient": "none", "legendX": 288, "legendY": 7}}},
 "layer": [
  {"transform": [{"filter": "datum.s == 'bias voltage'"}], "mark": {"type": "line", "clip": true, "strokeWidth": 1},
   "encoding": {"x": {"field": "t", "type": "quantitative", "scale": {"domain": [54360, 54570], "nice": false, "zero": false}, "axis": {"orient": "bottom", "title": "time [hh:mm]", "values": [54360,54380,54400,54420,54440,54460,54480,54500,54520,54540,54560], "labelExpr": "datum.value % 60 == 0 ? format(floor(datum.value / 3600), '02d') + ':' + format(floor(datum.value / 60) % 60, '02d') : ''"}},
    "y": {"field": "v", "type": "quantitative", "scale": {"domain": [0, 1700], "nice": false}, "axis": {"orient": "right", "title": "bias voltage [-V]", "format": "d", "values": [0, 200, 400, 600, 800, 1000, 1200, 1400, 1600]}}}},
  {"transform": [{"filter": "datum.s == 'bias voltage' && datum.v >= 0 && datum.t >= 54360"}], "mark": {"type": "point", "shape": "M0,-1L0,1M-1,0L1,0", "filled": false, "size": 64, "strokeWidth": 1, "opacity": 1},
   "encoding": {"x": {"field": "t", "type": "quantitative", "scale": {"domain": [54360, 54570], "nice": false, "zero": false}, "axis": null},
    "y": {"field": "v", "type": "quantitative", "scale": {"domain": [0, 1700], "nice": false}, "axis": null}}},
  {"transform": [{"filter": "datum.s == 'signal rate'"}], "mark": {"type": "line", "clip": true, "strokeWidth": 1},
   "encoding": {"x": {"field": "t", "type": "quantitative", "scale": {"domain": [54360, 54570], "nice": false, "zero": false}, "axis": {"orient": "top", "title": null, "labels": false, "values": [54360,54380,54400,54420,54440,54460,54480,54500,54520,54540,54560]}},
    "y": {"field": "v", "type": "quantitative", "scale": {"domain": [0, 8000], "nice": false}, "axis": {"orient": "left", "title": "signal rate [Hz]", "format": "d", "values": [0, 1000, 2000, 3000, 4000, 5000, 6000, 7000, 8000]}}}},
  {"transform": [{"filter": "datum.s == 'signal rate' && datum.v >= 0 && datum.v <= 8000"}], "mark": {"type": "point", "shape": "M-1,-1L1,1M-1,1L1,-1", "filled": false, "size": 64, "strokeWidth": 1, "opacity": 1},
   "encoding": {"x": {"field": "t", "type": "quantitative", "scale": {"domain": [54360, 54570], "nice": false, "zero": false}, "axis": null},
    "y": {"field": "v", "type": "quantitative", "scale": {"domain": [0, 8000], "nice": false}, "axis": null}}}
 ],
 "resolve": {"scale": {"y": "independent"}, "axis": {"x": "independent", "y": "independent"}}},
{"title": "BB0013", "width": 336, "height": 241,
 "transform": [{"filter": "datum.p == 'BB0013'"}],
 "encoding": {"color": {"field": "s", "type": "nominal", "scale": {"domain": ["bias voltage", "signal rate"], "range": ["#ffc020", "#ff0000"]}, "legend": {"title": null, "orient": "none", "legendX": 288, "legendY": 7}}},
 "layer": [
  {"transform": [{"filter": "datum.s == 'bias voltage'"}], "mark": {"type": "line", "clip": true, "strokeWidth": 1},
   "encoding": {"x": {"field": "t", "type": "quantitative", "scale": {"domain": [54840, 55030], "nice": false, "zero": false}, "axis": {"orient": "bottom", "title": "time [hh:mm]", "values": [54840,54860,54880,54900,54920,54940,54960,54980,55000,55020], "labelExpr": "datum.value % 60 == 0 ? format(floor(datum.value / 3600), '02d') + ':' + format(floor(datum.value / 60) % 60, '02d') : ''"}},
    "y": {"field": "v", "type": "quantitative", "scale": {"domain": [0, 1700], "nice": false}, "axis": {"orient": "right", "title": "bias voltage [-V]", "format": "d", "values": [0, 200, 400, 600, 800, 1000, 1200, 1400, 1600]}}}},
  {"transform": [{"filter": "datum.s == 'bias voltage' && datum.v >= 0"}], "mark": {"type": "point", "shape": "M0,-1L0,1M-1,0L1,0", "filled": false, "size": 64, "strokeWidth": 1, "opacity": 1},
   "encoding": {"x": {"field": "t", "type": "quantitative", "scale": {"domain": [54840, 55030], "nice": false, "zero": false}, "axis": null},
    "y": {"field": "v", "type": "quantitative", "scale": {"domain": [0, 1700], "nice": false}, "axis": null}}},
  {"transform": [{"filter": "datum.s == 'signal rate'"}], "mark": {"type": "line", "clip": true, "strokeWidth": 1},
   "encoding": {"x": {"field": "t", "type": "quantitative", "scale": {"domain": [54840, 55030], "nice": false, "zero": false}, "axis": {"orient": "top", "title": null, "labels": false, "values": [54840,54860,54880,54900,54920,54940,54960,54980,55000,55020]}},
    "y": {"field": "v", "type": "quantitative", "scale": {"domain": [0, 8000], "nice": false}, "axis": {"orient": "left", "title": "signal rate [Hz]", "format": "d", "values": [0, 1000, 2000, 3000, 4000, 5000, 6000, 7000, 8000]}}}},
  {"transform": [{"filter": "datum.s == 'signal rate' && datum.v >= 0 && datum.v <= 8000"}], "mark": {"type": "point", "shape": "M-1,-1L1,1M-1,1L1,-1", "filled": false, "size": 64, "strokeWidth": 1, "opacity": 1},
   "encoding": {"x": {"field": "t", "type": "quantitative", "scale": {"domain": [54840, 55030], "nice": false, "zero": false}, "axis": null},
    "y": {"field": "v", "type": "quantitative", "scale": {"domain": [0, 8000], "nice": false}, "axis": null}}}
 ],
 "resolve": {"scale": {"y": "independent"}, "axis": {"x": "independent", "y": "independent"}}},
{"title": "BB0015", "width": 336, "height": 241,
 "transform": [{"filter": "datum.p == 'BB0015'"}],
 "encoding": {"color": {"field": "s", "type": "nominal", "scale": {"domain": ["bias voltage", "signal rate"], "range": ["#ffc020", "#ff0000"]}, "legend": {"title": null, "orient": "none", "legendX": 288, "legendY": 7}}},
 "layer": [
  {"transform": [{"filter": "datum.s == 'bias voltage'"}], "mark": {"type": "line", "clip": true, "strokeWidth": 1},
   "encoding": {"x": {"field": "t", "type": "quantitative", "scale": {"domain": [59700, 60079], "nice": false, "zero": false}, "axis": {"orient": "bottom", "title": "time [hh:mm]", "values": [59700,59720,59740,59760,59780,59800,59820,59840,59860,59880,59900,59920,59940,59960,59980,60000,60020,60040,60060], "labelExpr": "datum.value % 60 == 0 ? format(floor(datum.value / 3600), '02d') + ':' + format(floor(datum.value / 60) % 60, '02d') : ''"}},
    "y": {"field": "v", "type": "quantitative", "scale": {"domain": [0, 1700], "nice": false}, "axis": {"orient": "right", "title": "bias voltage [-V]", "format": "d", "values": [0, 200, 400, 600, 800, 1000, 1200, 1400, 1600]}}}},
  {"transform": [{"filter": "datum.s == 'bias voltage' && datum.v >= 0"}], "mark": {"type": "point", "shape": "M0,-1L0,1M-1,0L1,0", "filled": false, "size": 64, "strokeWidth": 1, "opacity": 1},
   "encoding": {"x": {"field": "t", "type": "quantitative", "scale": {"domain": [59700, 60079], "nice": false, "zero": false}, "axis": null},
    "y": {"field": "v", "type": "quantitative", "scale": {"domain": [0, 1700], "nice": false}, "axis": null}}},
  {"transform": [{"filter": "datum.s == 'signal rate'"}], "mark": {"type": "line", "clip": true, "strokeWidth": 1},
   "encoding": {"x": {"field": "t", "type": "quantitative", "scale": {"domain": [59700, 60079], "nice": false, "zero": false}, "axis": {"orient": "top", "title": null, "labels": false, "values": [59700,59720,59740,59760,59780,59800,59820,59840,59860,59880,59900,59920,59940,59960,59980,60000,60020,60040,60060]}},
    "y": {"field": "v", "type": "quantitative", "scale": {"domain": [0, 8000], "nice": false}, "axis": {"orient": "left", "title": "signal rate [Hz]", "format": "d", "values": [0, 1000, 2000, 3000, 4000, 5000, 6000, 7000, 8000]}}}},
  {"transform": [{"filter": "datum.s == 'signal rate' && datum.v >= 0 && datum.v <= 8000"}], "mark": {"type": "point", "shape": "M-1,-1L1,1M-1,1L1,-1", "filled": false, "size": 64, "strokeWidth": 1, "opacity": 1},
   "encoding": {"x": {"field": "t", "type": "quantitative", "scale": {"domain": [59700, 60079], "nice": false, "zero": false}, "axis": null},
    "y": {"field": "v", "type": "quantitative", "scale": {"domain": [0, 8000], "nice": false}, "axis": null}}}
 ],
 "resolve": {"scale": {"y": "independent"}, "axis": {"x": "independent", "y": "independent"}}},
{"title": "BB0016", "width": 336, "height": 241,
 "transform": [{"filter": "datum.p == 'BB0016'"}],
 "encoding": {"color": {"field": "s", "type": "nominal", "scale": {"domain": ["bias voltage", "signal rate"], "range": ["#ffc020", "#ff0000"]}, "legend": {"title": null, "orient": "none", "legendX": 288, "legendY": 7}}},
 "layer": [
  {"transform": [{"filter": "datum.s == 'bias voltage'"}], "mark": {"type": "line", "clip": true, "strokeWidth": 1},
   "encoding": {"x": {"field": "t", "type": "quantitative", "scale": {"domain": [57360, 57900], "nice": false, "zero": false}, "axis": {"orient": "bottom", "title": "time [hh:mm]", "values": [57360,57420,57480,57540,57600,57660,57720,57780,57840,57900], "labelExpr": "datum.value % 120 == 0 ? format(floor(datum.value / 3600), '02d') + ':' + format(floor(datum.value / 60) % 60, '02d') : ''"}},
    "y": {"field": "v", "type": "quantitative", "scale": {"domain": [0, 1700], "nice": false}, "axis": {"orient": "right", "title": "bias voltage [-V]", "format": "d", "values": [0, 200, 400, 600, 800, 1000, 1200, 1400, 1600]}}}},
  {"transform": [{"filter": "datum.s == 'bias voltage' && datum.v >= 0"}], "mark": {"type": "point", "shape": "M0,-1L0,1M-1,0L1,0", "filled": false, "size": 64, "strokeWidth": 1, "opacity": 1},
   "encoding": {"x": {"field": "t", "type": "quantitative", "scale": {"domain": [57360, 57900], "nice": false, "zero": false}, "axis": null},
    "y": {"field": "v", "type": "quantitative", "scale": {"domain": [0, 1700], "nice": false}, "axis": null}}},
  {"transform": [{"filter": "datum.s == 'signal rate'"}], "mark": {"type": "line", "clip": true, "strokeWidth": 1},
   "encoding": {"x": {"field": "t", "type": "quantitative", "scale": {"domain": [57360, 57900], "nice": false, "zero": false}, "axis": {"orient": "top", "title": null, "labels": false, "values": [57360,57420,57480,57540,57600,57660,57720,57780,57840,57900]}},
    "y": {"field": "v", "type": "quantitative", "scale": {"domain": [0, 8000], "nice": false}, "axis": {"orient": "left", "title": "signal rate [Hz]", "format": "d", "values": [0, 1000, 2000, 3000, 4000, 5000, 6000, 7000, 8000]}}}},
  {"transform": [{"filter": "datum.s == 'signal rate' && datum.v >= 0 && datum.v <= 8000"}], "mark": {"type": "point", "shape": "M-1,-1L1,1M-1,1L1,-1", "filled": false, "size": 64, "strokeWidth": 1, "opacity": 1},
   "encoding": {"x": {"field": "t", "type": "quantitative", "scale": {"domain": [57360, 57900], "nice": false, "zero": false}, "axis": null},
    "y": {"field": "v", "type": "quantitative", "scale": {"domain": [0, 8000], "nice": false}, "axis": null}}}
 ],
 "resolve": {"scale": {"y": "independent"}, "axis": {"x": "independent", "y": "independent"}}},
{"title": "BB0017", "width": 336, "height": 241,
 "transform": [{"filter": "datum.p == 'BB0017'"}],
 "encoding": {"color": {"field": "s", "type": "nominal", "scale": {"domain": ["bias voltage", "signal rate"], "range": ["#ffc020", "#ff0000"]}, "legend": {"title": null, "orient": "none", "legendX": 288, "legendY": 7}}},
 "layer": [
  {"transform": [{"filter": "datum.s == 'bias voltage'"}], "mark": {"type": "line", "clip": true, "strokeWidth": 1},
   "encoding": {"x": {"field": "t", "type": "quantitative", "scale": {"domain": [57900, 58530], "nice": false, "zero": false}, "axis": {"orient": "bottom", "title": "time [hh:mm]", "values": [57900,57960,58020,58080,58140,58200,58260,58320,58380,58440,58500], "labelExpr": "datum.value % 120 == 0 ? format(floor(datum.value / 3600), '02d') + ':' + format(floor(datum.value / 60) % 60, '02d') : ''"}},
    "y": {"field": "v", "type": "quantitative", "scale": {"domain": [0, 1700], "nice": false}, "axis": {"orient": "right", "title": "bias voltage [-V]", "format": "d", "values": [0, 200, 400, 600, 800, 1000, 1200, 1400, 1600]}}}},
  {"transform": [{"filter": "datum.s == 'bias voltage' && datum.v >= 0"}], "mark": {"type": "point", "shape": "M0,-1L0,1M-1,0L1,0", "filled": false, "size": 64, "strokeWidth": 1, "opacity": 1},
   "encoding": {"x": {"field": "t", "type": "quantitative", "scale": {"domain": [57900, 58530], "nice": false, "zero": false}, "axis": null},
    "y": {"field": "v", "type": "quantitative", "scale": {"domain": [0, 1700], "nice": false}, "axis": null}}},
  {"transform": [{"filter": "datum.s == 'signal rate'"}], "mark": {"type": "line", "clip": true, "strokeWidth": 1},
   "encoding": {"x": {"field": "t", "type": "quantitative", "scale": {"domain": [57900, 58530], "nice": false, "zero": false}, "axis": {"orient": "top", "title": null, "labels": false, "values": [57900,57960,58020,58080,58140,58200,58260,58320,58380,58440,58500]}},
    "y": {"field": "v", "type": "quantitative", "scale": {"domain": [0, 8000], "nice": false}, "axis": {"orient": "left", "title": "signal rate [Hz]", "format": "d", "values": [0, 1000, 2000, 3000, 4000, 5000, 6000, 7000, 8000]}}}},
  {"transform": [{"filter": "datum.s == 'signal rate' && datum.v >= 0 && datum.v <= 8000"}], "mark": {"type": "point", "shape": "M-1,-1L1,1M-1,1L1,-1", "filled": false, "size": 64, "strokeWidth": 1, "opacity": 1},
   "encoding": {"x": {"field": "t", "type": "quantitative", "scale": {"domain": [57900, 58530], "nice": false, "zero": false}, "axis": null},
    "y": {"field": "v", "type": "quantitative", "scale": {"domain": [0, 8000], "nice": false}, "axis": null}}}
 ],
 "resolve": {"scale": {"y": "independent"}, "axis": {"x": "independent", "y": "independent"}}},
{"title": "BB0018", "width": 336, "height": 241,
 "transform": [{"filter": "datum.p == 'BB0018'"}],
 "encoding": {"color": {"field": "s", "type": "nominal", "scale": {"domain": ["bias voltage", "signal rate"], "range": ["#ffc020", "#ff0000"]}, "legend": {"title": null, "orient": "none", "legendX": 288, "legendY": 7}}},
 "layer": [
  {"transform": [{"filter": "datum.s == 'bias voltage'"}], "mark": {"type": "line", "clip": true, "strokeWidth": 1},
   "encoding": {"x": {"field": "t", "type": "quantitative", "scale": {"domain": [58500, 59160], "nice": false, "zero": false}, "axis": {"orient": "bottom", "title": "time [hh:mm]", "values": [58500,58560,58620,58680,58740,58800,58860,58920,58980,59040,59100,59160], "labelExpr": "datum.value % 120 == 0 ? format(floor(datum.value / 3600), '02d') + ':' + format(floor(datum.value / 60) % 60, '02d') : ''"}},
    "y": {"field": "v", "type": "quantitative", "scale": {"domain": [0, 1700], "nice": false}, "axis": {"orient": "right", "title": "bias voltage [-V]", "format": "d", "values": [0, 200, 400, 600, 800, 1000, 1200, 1400, 1600]}}}},
  {"transform": [{"filter": "datum.s == 'bias voltage' && datum.v >= 0"}], "mark": {"type": "point", "shape": "M0,-1L0,1M-1,0L1,0", "filled": false, "size": 64, "strokeWidth": 1, "opacity": 1},
   "encoding": {"x": {"field": "t", "type": "quantitative", "scale": {"domain": [58500, 59160], "nice": false, "zero": false}, "axis": null},
    "y": {"field": "v", "type": "quantitative", "scale": {"domain": [0, 1700], "nice": false}, "axis": null}}},
  {"transform": [{"filter": "datum.s == 'signal rate'"}], "mark": {"type": "line", "clip": true, "strokeWidth": 1},
   "encoding": {"x": {"field": "t", "type": "quantitative", "scale": {"domain": [58500, 59160], "nice": false, "zero": false}, "axis": {"orient": "top", "title": null, "labels": false, "values": [58500,58560,58620,58680,58740,58800,58860,58920,58980,59040,59100,59160]}},
    "y": {"field": "v", "type": "quantitative", "scale": {"domain": [0, 8000], "nice": false}, "axis": {"orient": "left", "title": "signal rate [Hz]", "format": "d", "values": [0, 1000, 2000, 3000, 4000, 5000, 6000, 7000, 8000]}}}},
  {"transform": [{"filter": "datum.s == 'signal rate' && datum.v >= 0 && datum.v <= 8000"}], "mark": {"type": "point", "shape": "M-1,-1L1,1M-1,1L1,-1", "filled": false, "size": 64, "strokeWidth": 1, "opacity": 1},
   "encoding": {"x": {"field": "t", "type": "quantitative", "scale": {"domain": [58500, 59160], "nice": false, "zero": false}, "axis": null},
    "y": {"field": "v", "type": "quantitative", "scale": {"domain": [0, 8000], "nice": false}, "axis": null}}}
 ],
 "resolve": {"scale": {"y": "independent"}, "axis": {"x": "independent", "y": "independent"}}},
{"title": "BB0019", "width": 336, "height": 241,
 "transform": [{"filter": "datum.p == 'BB0019'"}],
 "encoding": {"color": {"field": "s", "type": "nominal", "scale": {"domain": ["bias voltage", "signal rate"], "range": ["#ffc020", "#ff0000"]}, "legend": {"title": null, "orient": "none", "legendX": 288, "legendY": 7}}},
 "layer": [
  {"transform": [{"filter": "datum.s == 'bias voltage'"}], "mark": {"type": "line", "clip": true, "strokeWidth": 1},
   "encoding": {"x": {"field": "t", "type": "quantitative", "scale": {"domain": [59100, 59700], "nice": false, "zero": false}, "axis": {"orient": "bottom", "title": "time [hh:mm]", "values": [59100,59160,59220,59280,59340,59400,59460,59520,59580,59640,59700], "labelExpr": "datum.value % 120 == 0 ? format(floor(datum.value / 3600), '02d') + ':' + format(floor(datum.value / 60) % 60, '02d') : ''"}},
    "y": {"field": "v", "type": "quantitative", "scale": {"domain": [0, 1700], "nice": false}, "axis": {"orient": "right", "title": "bias voltage [-V]", "format": "d", "values": [0, 200, 400, 600, 800, 1000, 1200, 1400, 1600]}}}},
  {"transform": [{"filter": "datum.s == 'bias voltage' && datum.v >= 0"}], "mark": {"type": "point", "shape": "M0,-1L0,1M-1,0L1,0", "filled": false, "size": 64, "strokeWidth": 1, "opacity": 1},
   "encoding": {"x": {"field": "t", "type": "quantitative", "scale": {"domain": [59100, 59700], "nice": false, "zero": false}, "axis": null},
    "y": {"field": "v", "type": "quantitative", "scale": {"domain": [0, 1700], "nice": false}, "axis": null}}},
  {"transform": [{"filter": "datum.s == 'signal rate'"}], "mark": {"type": "line", "clip": true, "strokeWidth": 1},
   "encoding": {"x": {"field": "t", "type": "quantitative", "scale": {"domain": [59100, 59700], "nice": false, "zero": false}, "axis": {"orient": "top", "title": null, "labels": false, "values": [59100,59160,59220,59280,59340,59400,59460,59520,59580,59640,59700]}},
    "y": {"field": "v", "type": "quantitative", "scale": {"domain": [0, 8000], "nice": false}, "axis": {"orient": "left", "title": "signal rate [Hz]", "format": "d", "values": [0, 1000, 2000, 3000, 4000, 5000, 6000, 7000, 8000]}}}},
  {"transform": [{"filter": "datum.s == 'signal rate' && datum.v >= 0 && datum.v <= 8000"}], "mark": {"type": "point", "shape": "M-1,-1L1,1M-1,1L1,-1", "filled": false, "size": 64, "strokeWidth": 1, "opacity": 1},
   "encoding": {"x": {"field": "t", "type": "quantitative", "scale": {"domain": [59100, 59700], "nice": false, "zero": false}, "axis": null},
    "y": {"field": "v", "type": "quantitative", "scale": {"domain": [0, 8000], "nice": false}, "axis": null}}}
 ],
 "resolve": {"scale": {"y": "independent"}, "axis": {"x": "independent", "y": "independent"}}},
{"title": "BC0020", "width": 336, "height": 241,
 "transform": [{"filter": "datum.p == 'BC0020'"}],
 "encoding": {"color": {"field": "s", "type": "nominal", "scale": {"domain": ["bias voltage", "signal rate"], "range": ["#ffc020", "#ff0000"]}, "legend": {"title": null, "orient": "none", "legendX": 288, "legendY": 7}}},
 "layer": [
  {"transform": [{"filter": "datum.s == 'bias voltage'"}], "mark": {"type": "line", "clip": true, "strokeWidth": 1},
   "encoding": {"x": {"field": "t", "type": "quantitative", "scale": {"domain": [55800, 56520], "nice": false, "zero": false}, "axis": {"orient": "bottom", "title": "time [hh:mm]", "values": [55800,55860,55920,55980,56040,56100,56160,56220,56280,56340,56400,56460,56520], "labelExpr": "datum.value % 120 == 0 ? format(floor(datum.value / 3600), '02d') + ':' + format(floor(datum.value / 60) % 60, '02d') : ''"}},
    "y": {"field": "v", "type": "quantitative", "scale": {"domain": [0, 1700], "nice": false}, "axis": {"orient": "right", "title": "bias voltage [-V]", "format": "d", "values": [0, 200, 400, 600, 800, 1000, 1200, 1400, 1600]}}}},
  {"transform": [{"filter": "datum.s == 'bias voltage' && datum.v >= 0"}], "mark": {"type": "point", "shape": "M0,-1L0,1M-1,0L1,0", "filled": false, "size": 64, "strokeWidth": 1, "opacity": 1},
   "encoding": {"x": {"field": "t", "type": "quantitative", "scale": {"domain": [55800, 56520], "nice": false, "zero": false}, "axis": null},
    "y": {"field": "v", "type": "quantitative", "scale": {"domain": [0, 1700], "nice": false}, "axis": null}}},
  {"transform": [{"filter": "datum.s == 'signal rate'"}], "mark": {"type": "line", "clip": true, "strokeWidth": 1},
   "encoding": {"x": {"field": "t", "type": "quantitative", "scale": {"domain": [55800, 56520], "nice": false, "zero": false}, "axis": {"orient": "top", "title": null, "labels": false, "values": [55800,55860,55920,55980,56040,56100,56160,56220,56280,56340,56400,56460,56520]}},
    "y": {"field": "v", "type": "quantitative", "scale": {"domain": [0, 8000], "nice": false}, "axis": {"orient": "left", "title": "signal rate [Hz]", "format": "d", "values": [0, 1000, 2000, 3000, 4000, 5000, 6000, 7000, 8000]}}}},
  {"transform": [{"filter": "datum.s == 'signal rate' && datum.v >= 0 && datum.v <= 8000"}], "mark": {"type": "point", "shape": "M-1,-1L1,1M-1,1L1,-1", "filled": false, "size": 64, "strokeWidth": 1, "opacity": 1},
   "encoding": {"x": {"field": "t", "type": "quantitative", "scale": {"domain": [55800, 56520], "nice": false, "zero": false}, "axis": null},
    "y": {"field": "v", "type": "quantitative", "scale": {"domain": [0, 8000], "nice": false}, "axis": null}}}
 ],
 "resolve": {"scale": {"y": "independent"}, "axis": {"x": "independent", "y": "independent"}}}
],
"config": {
 "font": "Liberation Sans",
 "view": {"stroke": "black", "strokeWidth": 1},
 "axis": {"labelFont": "Liberation Sans", "labelFontSize": 14, "labelColor": "black", "titleFont": "Liberation Sans", "titleFontSize": 14, "titleFontWeight": "normal", "titleColor": "black", "grid": false, "domain": false, "tickColor": "black", "tickWidth": 1, "labelFlush": false, "labelOverlap": false, "labelBound": false},
 "axisBottom": {"offset": -7, "tickSize": 7, "labelPadding": 8, "titlePadding": 7},
 "axisTop": {"offset": -7, "tickSize": 7, "labels": false},
 "axisLeft": {"ticks": false, "labelPadding": 8, "titlePadding": 10},
 "axisRight": {"offset": -7, "tickSize": 7, "labelPadding": 14, "titlePadding": 8, "titleAngle": 270, "titleBaseline": "top"},
 "legend": {"labelFont": "Liberation Sans", "labelFontSize": 14, "labelColor": "black", "labelAlign": "right", "labelOffset": -34, "symbolType": "M-5.3,0L5.3,0", "symbolSize": 64, "symbolStrokeWidth": 1, "rowPadding": 1, "padding": 0},
 "title": {"anchor": "start", "frame": "group", "offset": -30, "dx": 12, "font": "Liberation Sans", "fontSize": 14, "fontWeight": "normal", "color": "black"}
}
}
